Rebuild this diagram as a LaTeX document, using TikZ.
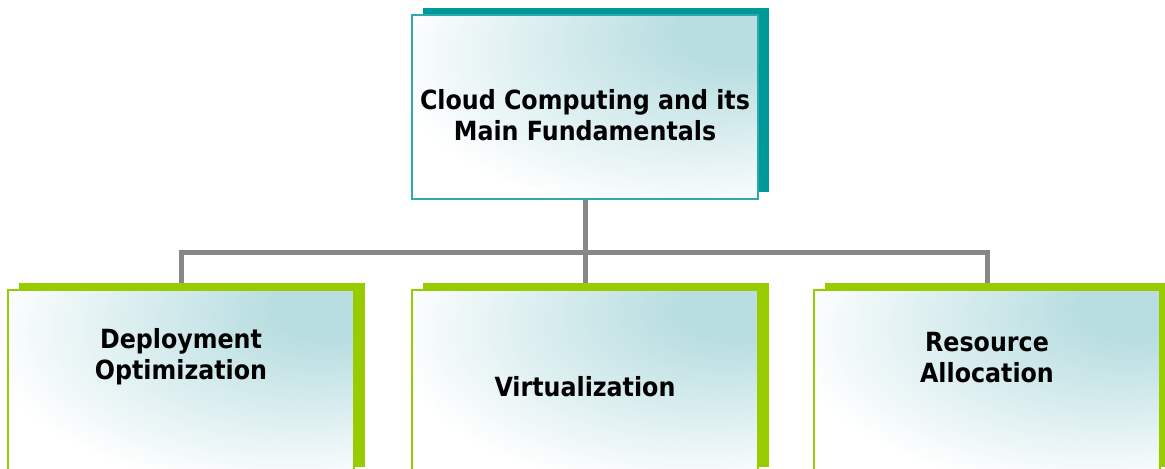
\documentclass[tikz,border=0pt]{standalone}
\usepackage{fontspec}
\setmainfont{DejaVu Sans Condensed}
\usetikzlibrary{shadows,backgrounds}
\definecolor{tealdark}{HTML}{009999}
\definecolor{tealline}{HTML}{2EAAAA}
\definecolor{lime}{HTML}{99CC00}
\definecolor{glow}{HTML}{B9DEE1}
\definecolor{wiregray}{HTML}{878787}
\pgfdeclareradialshading{glowshade}{\pgfpoint{24bp}{22bp}}{color(0bp)=(glow); color(9bp)=(glow); color(24bp)=(glow!55!white); color(42bp)=(white); color(100bp)=(white)}

\begin{document}
\begin{tikzpicture}[x=0.5pt,y=-0.5pt,
  box/.style={rectangle, minimum width=173pt, minimum height=92pt, inner sep=0pt, shade, shading=glowshade, line width=1pt},
  topbox/.style={box, draw=tealline, drop shadow={shadow xshift=5.5pt, shadow yshift=3.75pt, fill=tealdark, opacity=1}},
  subbox/.style={box, draw=lime, drop shadow={shadow xshift=5.5pt, shadow yshift=3.75pt, fill=lime, opacity=1}},
  txt/.style={align=center, font=\bfseries\fontsize{13.2pt}{15.5pt}\selectfont},
  wire/.style={draw=wiregray, line width=2.5pt}]
\useasboundingbox (0,0) rectangle (1165,468);
\node[topbox] (cc) at (585,107) {};
\node[subbox] (dep) at (181,382) {};
\node[subbox] (virt) at (585,382) {};
\node[subbox] (res) at (987,382) {};
\node[txt] (cctxt) at (585,115) {Cloud Computing and its\\Main Fundamentals};
\node[txt] (deptxt) at (181,357) {Deployment\\Optimization};
\node[txt] (virttxt) at (585,387) {Virtualization};
\node[txt] (restxt) at (987,358) {Resource\\Allocation};
\coordinate (bus) at (585,252.5);

\begin{pgfonlayer}{background}
\path[wire] (cc.south) -- (bus);
\path[wire] (bus) -| (dep.north);
\path[wire] (bus) -- (virt.north);
\path[wire] (bus) -| (res.north);
\end{pgfonlayer}
\end{tikzpicture}
\end{document}
